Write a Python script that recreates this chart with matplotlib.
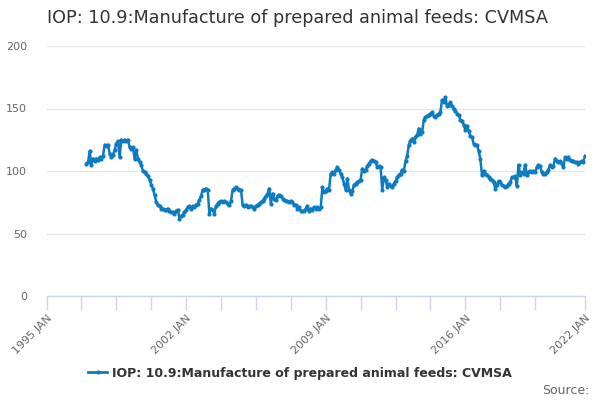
import matplotlib
matplotlib.use("Agg")
import matplotlib.pyplot as plt
from matplotlib.lines import Line2D
import numpy as np

title = "IOP: 10.9:Manufacture of prepared animal feeds: CVMSA"
series_name = "IOP: 10.9:Manufacture of prepared animal feeds: CVMSA"
start_year = 1997
start_month = 1

values = [
    # 1997
    106, 107, 116, 105, 110, 108, 110, 109, 111, 110, 112, 121,
    # 1998
    120, 121, 114, 111, 113, 117, 122, 124, 111, 125, 124, 125,
    # 1999
    124, 125, 119, 118, 119, 110, 117, 110, 107, 105, 100, 99,
    # 2000
    98, 96, 93, 89, 86, 81, 75, 73, 72, 70, 70, 69,
    # 2001
    69, 70, 68, 67, 67, 66, 68, 69, 62, 64, 65, 67,
    # 2002
    69, 71, 72, 70, 72, 71, 73, 74, 77, 80, 85, 85,
    # 2003
    86, 85, 66, 70, 69, 66, 72, 74, 75, 76, 75, 76,
    # 2004
    75, 74, 73, 76, 85, 86, 87, 86, 85, 85, 73, 72,
    # 2005
    73, 71, 72, 72, 71, 70, 72, 73, 74, 75, 76, 78,
    # 2006
    80, 82, 86, 74, 82, 78, 77, 80, 81, 80, 78, 77,
    # 2007
    76, 76, 75, 76, 75, 73, 73, 70, 71, 68, 68, 68,
    # 2008
    70, 72, 68, 70, 69, 71, 70, 71, 70, 71, 87, 83,
    # 2009
    84, 86, 85, 98, 99, 98, 101, 103, 101, 98, 95, 90,
    # 2010
    85, 94, 85, 82, 84, 89, 90, 91, 92, 93, 102, 100,
    # 2011
    101, 104, 106, 108, 109, 108, 107, 103, 104, 103, 85, 95,
    # 2012
    93, 87, 90, 88, 87, 90, 92, 95, 97, 98, 101, 100,
    # 2013
    108, 112, 121, 124, 126, 123, 127, 129, 134, 130, 131, 141,
    # 2014
    143, 144, 145, 146, 147, 144, 143, 145, 146, 147, 157, 155,
    # 2015
    159, 152, 153, 155, 152, 150, 148, 146, 145, 141, 140, 137,
    # 2016
    133, 136, 132, 128, 127, 122, 121, 121, 116, 110, 97, 100,
    # 2017
    98, 97, 95, 94, 93, 91, 86, 89, 92, 91, 89, 88,
    # 2018
    87, 88, 90, 91, 95, 95, 96, 88, 105, 97, 99, 98,
    # 2019
    105, 97, 99, 100, 99, 100, 99, 103, 105, 104, 99, 98,
    # 2020
    98, 99, 101, 105, 103, 104, 110, 108, 107, 108, 106, 103,
    # 2021
    111, 110, 111, 109, 108, 108, 107, 107, 106, 107, 108, 107,
    # 2022
    112,
]

tick_label_years = [1995, 2002, 2009, 2016, 2022]
tick_labels = ["1995 JAN", "2002 JAN", "2009 JAN", "2016 JAN", "2022 JAN"]
minor_tick_years = [1995, 1996.75, 1998.5, 2000.25, 2002, 2003.75, 2005.5, 2007.25,
                    2009, 2010.75, 2012.5, 2014.25, 2016, 2017.75, 2019.5, 2022]
y_ticks = [0, 50, 100, 150, 200]

x = np.array([start_year + (start_month - 1 + i) / 12.0 for i in range(len(values))])

line_color = "#0d7bc2"
grid_color = "#e6e6e6"
axis_color = "#ccd6eb"

fig = plt.figure(figsize=(6, 4), dpi=100)
ax = fig.add_axes([0.0775, 0.26, 0.8975, 0.625])

ax.plot(x, values, color=line_color, linewidth=1.8, marker="o", markersize=3,
        markeredgewidth=0, zorder=3)

ax.set_xlim(1995, 2022)
ax.set_ylim(0, 200)
ax.set_yticks(y_ticks)
ax.set_yticklabels([str(v) for v in y_ticks])
ax.yaxis.grid(True, color=grid_color, linewidth=1)
ax.set_axisbelow(True)
ax.tick_params(axis="y", length=0, labelsize=8, labelcolor="#666666", pad=14)

for s in ["top", "right", "left"]:
    ax.spines[s].set_visible(False)
ax.spines["bottom"].set_color(axis_color)
ax.spines["bottom"].set_linewidth(1)

ax.set_xticks(minor_tick_years)
ax.set_xticklabels([""] * len(minor_tick_years))
ax.tick_params(axis="x", length=10, color=axis_color, width=1, direction="out")

for yr, lab in zip(tick_label_years, tick_labels):
    ax.annotate(lab, xy=(yr, 0), xycoords=("data", "axes fraction"),
                xytext=(0, -12), textcoords="offset points",
                rotation=45, ha="right", va="top", rotation_mode="anchor",
                fontsize=8, color="#666666")

fig.text(0.078, 0.955, title, fontsize=12.7, color="#333333", ha="left", va="center")

handle = Line2D([0], [0], color=line_color, linewidth=2, marker="o", markersize=3,
                markeredgewidth=0)
fig.legend([handle], [series_name], loc="center", bbox_to_anchor=(0.5, 0.067),
           frameon=False, prop={"weight": "bold", "size": 9}, handlelength=1.5,
           handletextpad=0.4, labelcolor="#333333")

fig.text(0.982, 0.025, "Source:", fontsize=9, color="#666666", ha="right", va="center")

fig.savefig("out.png", dpi=100)
